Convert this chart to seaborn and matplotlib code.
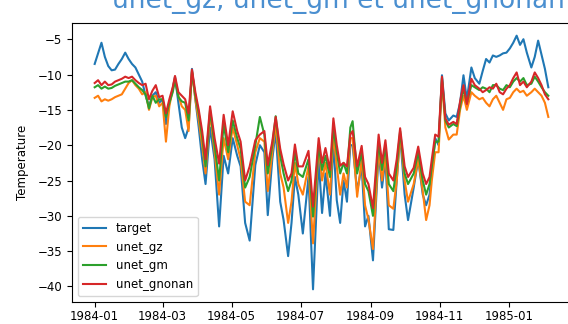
import pandas as pd
import matplotlib
matplotlib.use("Agg")
import matplotlib.pyplot as plt
import matplotlib.dates as mdates
import seaborn as sns

# day offsets from 1984-01-01
days = [0, 3, 6, 9, 12, 15, 18, 21, 24, 27, 30, 33, 36, 39,
        42, 45, 48, 51, 54, 57, 60, 63, 66, 69, 71, 74, 77, 80, 83, 86, 89, 92, 95, 98,
        102, 106, 110, 114, 118, 122, 126, 129, 133, 137, 142, 146, 150, 153, 157, 160, 164,
        167, 171, 174, 177, 180, 184, 189, 193, 198, 201, 204, 208, 211, 214, 217, 220, 223, 226,
        228, 232, 236, 239, 242, 246, 251, 254, 257, 260, 264, 267, 270, 274, 277, 282, 286, 290, 293, 296,
        298, 301, 304, 307, 310, 313, 317, 320, 323, 326, 329, 333, 336, 340,
        343, 346, 349, 352, 355, 358, 361, 364, 367, 370, 373, 376, 379, 382, 386, 389, 392, 395, 398, 401]

target = [-8.5, -7.0, -5.5, -7.5, -8.8, -9.4, -9.3, -8.5, -7.8, -6.9, -7.8, -8.5, -9.0, -10.0,
          -11.0, -13.0, -14.5, -13.0, -12.5, -14.0, -13.5, -17.0, -14.0, -12.0, -10.3, -14.0, -17.5, -19.0, -17.5, -9.2, -13.5, -17.5, -22.0, -25.5,
          -17.5, -22.0, -31.5, -21.5, -24.0, -19.0, -21.5, -23.0, -31.0, -33.5, -22.8, -20.0, -21.0, -29.9, -22.0, -18.0, -28.0,
          -30.6, -35.7, -31.0, -24.5, -27.0, -32.5, -24.5, -40.4, -22.0, -29.6, -24.0, -30.0, -19.5, -27.8, -31.0, -25.0, -28.0, -20.0,
          -20.0, -26.5, -23.0, -31.5, -30.0, -36.3, -21.0, -26.0, -22.0, -31.9, -32.0, -25.0, -18.5, -27.0, -30.6, -26.0, -22.0, -27.0, -28.5, -27.0,
          -24.0, -19.0, -20.0, -10.1, -15.5, -16.5, -15.8, -16.0, -14.0, -10.1, -13.5, -9.0, -10.5, -11.3,
          -9.5, -7.8, -8.3, -7.3, -7.5, -7.3, -7.0, -6.9, -6.3, -5.5, -4.5, -5.8, -5.0, -6.9, -9.0, -7.5, -5.2, -7.2, -9.2, -11.8]

unet_gz = [-13.3, -13.0, -13.8, -13.5, -13.7, -13.5, -13.2, -13.0, -12.8, -12.0, -11.2, -10.8, -11.5, -12.0,
           -12.8, -12.5, -15.0, -13.2, -13.0, -14.5, -14.0, -19.5, -14.5, -12.0, -10.5, -13.0, -14.5, -15.0, -18.0, -9.5, -13.5, -16.5, -20.0, -24.0,
           -15.5, -21.0, -27.0, -19.0, -22.0, -17.5, -20.0, -22.0, -28.0, -28.5, -21.0, -19.0, -19.5, -26.5, -21.0, -17.0, -24.0,
           -26.0, -31.0, -28.0, -22.5, -25.5, -27.0, -23.0, -33.9, -20.0, -25.0, -22.5, -27.0, -18.5, -23.0, -27.0, -24.0, -26.0, -19.0,
           -19.0, -27.3, -22.0, -28.5, -30.5, -34.7, -20.5, -25.0, -21.5, -28.5, -29.0, -25.0, -18.5, -25.0, -28.0, -25.5, -22.0, -26.5, -30.6, -28.5,
           -25.0, -21.0, -21.0, -11.0, -17.5, -19.2, -18.5, -18.5, -15.0, -13.0, -15.0, -12.5, -13.0, -13.5,
           -13.3, -14.0, -14.5, -13.5, -13.0, -14.0, -15.0, -13.5, -13.3, -12.5, -12.0, -12.5, -12.3, -13.0, -12.5, -12.0, -12.5, -13.0, -14.0, -16.0]

unet_gm = [-11.8, -11.5, -12.0, -11.7, -12.0, -11.9, -11.6, -11.4, -11.2, -11.0, -11.0, -10.8, -11.3, -11.8,
           -12.2, -12.8, -14.8, -13.0, -14.0, -13.5, -13.5, -16.0, -14.0, -12.5, -10.8, -13.2, -13.8, -14.0, -16.5, -9.6, -13.0, -15.5, -18.8, -23.0,
           -15.0, -20.0, -25.0, -17.0, -21.0, -16.5, -19.0, -20.5, -26.0, -24.5, -20.0, -16.0, -18.5, -24.0, -20.0, -15.9, -21.5,
           -24.0, -26.5, -25.0, -21.0, -24.0, -24.5, -22.0, -30.1, -20.0, -23.5, -21.5, -24.5, -17.5, -21.0, -24.0, -22.5, -24.0, -17.5,
           -16.6, -24.0, -21.0, -25.5, -26.5, -30.0, -19.5, -23.5, -20.0, -25.5, -26.5, -23.0, -18.0, -24.0, -25.5, -24.0, -21.0, -25.0, -27.0, -25.5,
           -23.0, -19.5, -19.5, -10.5, -16.5, -17.5, -17.0, -17.3, -14.5, -12.0, -14.0, -11.5, -11.8, -12.2,
           -11.8, -12.0, -12.5, -11.5, -11.5, -12.0, -12.2, -11.5, -11.8, -11.0, -10.5, -11.0, -10.5, -11.5, -11.3, -10.3, -11.0, -11.8, -12.5, -13.0]

unet_gnonan = [-11.2, -10.8, -11.5, -11.0, -11.5, -11.4, -11.0, -10.8, -10.6, -10.3, -10.5, -10.3, -10.8, -11.2,
               -11.5, -11.3, -13.5, -12.3, -11.5, -13.2, -13.0, -15.5, -13.5, -11.8, -10.2, -12.5, -13.0, -13.5, -15.5, -9.3, -12.5, -15.0, -18.0, -22.0,
               -14.5, -19.0, -22.6, -15.7, -20.0, -15.2, -18.0, -19.5, -25.0, -23.0, -19.3, -18.5, -18.0, -22.8, -19.5, -16.0, -20.5,
               -22.7, -25.0, -24.0, -19.9, -23.0, -23.0, -20.8, -28.7, -19.0, -22.5, -20.4, -23.5, -16.2, -20.0, -22.9, -22.5, -23.0, -18.5,
               -18.0, -23.0, -20.1, -24.5, -25.5, -28.9, -18.5, -22.5, -19.3, -24.0, -25.0, -22.0, -17.6, -23.0, -24.5, -23.2, -20.2, -24.0, -25.5, -24.5,
               -22.0, -18.5, -18.8, -10.3, -16.2, -17.1, -16.7, -17.0, -13.8, -11.5, -14.2, -10.6, -11.5, -12.0,
               -12.5, -12.2, -11.8, -12.0, -11.3, -12.5, -12.8, -12.0, -11.5, -10.5, -9.7, -11.5, -11.0, -11.8, -11.0, -9.7, -10.5, -11.5, -12.8, -13.5]

dates = pd.Timestamp("1984-01-01") + pd.to_timedelta(days, unit="D")

df = pd.DataFrame({"target": target, "unet_gz": unet_gz,
                   "unet_gm": unet_gm, "unet_gnonan": unet_gnonan}, index=dates)
df_long = df.reset_index(names="date").melt(id_vars="date", var_name="model",
                                             value_name="Temperature")

plt.rcParams["font.size"] = 8.5

fig = plt.figure(figsize=(5.68, 3.24), dpi=100)
ax = fig.add_axes([72 / 568, 1 - 302 / 324, 499 / 568, 279 / 324])

sns.lineplot(data=df_long, x="date", y="Temperature", hue="model",
             palette="tab10", linewidth=1.5, ax=ax)

ax.xaxis.set_major_locator(mdates.MonthLocator(bymonth=[1, 3, 5, 7, 9, 11]))
ax.xaxis.set_major_formatter(mdates.DateFormatter("%Y-%m"))
ax.tick_params(axis="x", pad=2)
ax.set_xlabel("")
ax.set_ylabel("Temperature", labelpad=6)

handles, labels = ax.get_legend_handles_labels()
ax.legend(handles, labels, loc="lower left")

# notebook heading, partly cut off at the top
fig.text(112 / 568, 1 - 8 / 324, "unet_gz, unet_gm et unet_gnonan",
         fontsize=19, color="#4a8fd0", va="baseline", ha="left")

fig.savefig("out.png", dpi=100)
